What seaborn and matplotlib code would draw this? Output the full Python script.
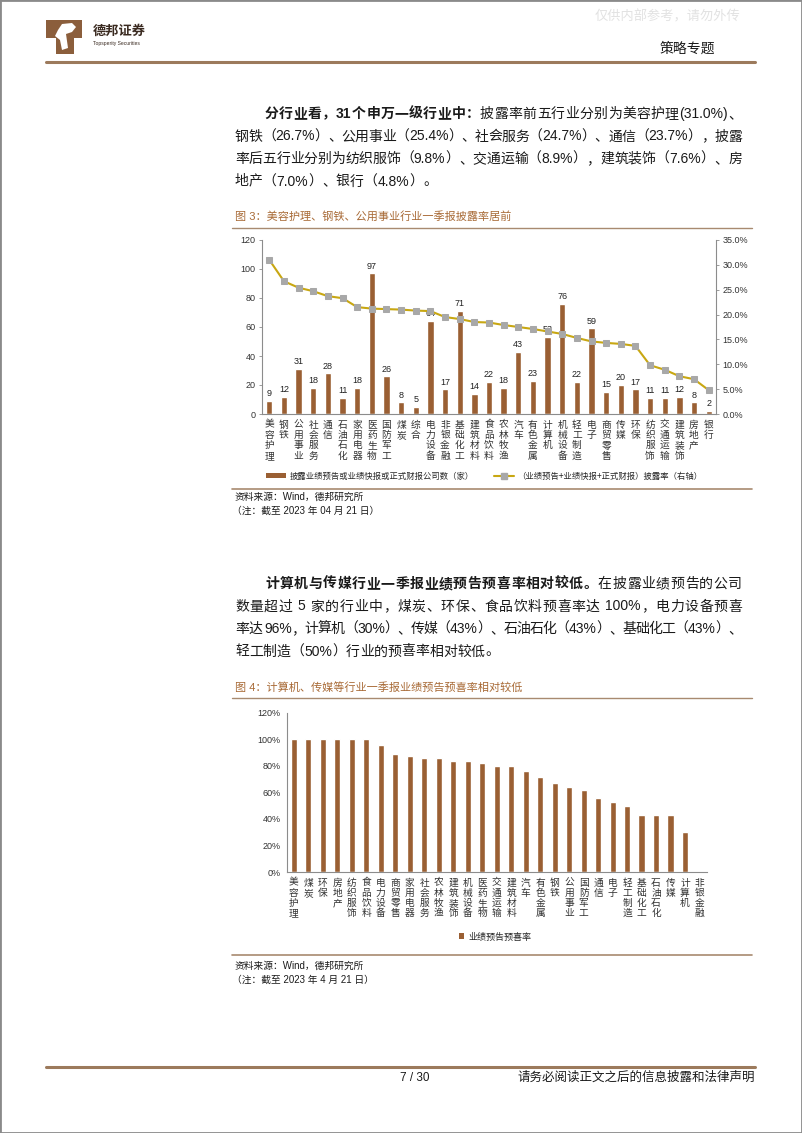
import numpy as np
import matplotlib
matplotlib.use("Agg")
import matplotlib.pyplot as plt
import seaborn as sns
from matplotlib.patches import Patch, Rectangle, Polygon
from matplotlib.lines import Line2D
from matplotlib.ticker import FuncFormatter

# ---------------- data ----------------
ind1 = ["美容护理", "钢铁", "公用事业", "社会服务", "通信", "石油石化", "家用电器", "医药生物",
        "国防军工", "煤炭", "综合", "电力设备", "非银金融", "基础化工", "建筑材料", "食品饮料",
        "农林牧渔", "汽车", "有色金属", "计算机", "机械设备", "轻工制造", "电子", "商贸零售",
        "传媒", "环保", "纺织服饰", "交通运输", "建筑装饰", "房地产", "银行"]
cnt1 = [9, 12, 31, 18, 28, 11, 18, 97, 26, 8, 5, 64, 17, 71, 14, 22, 18, 43, 23, 53, 76, 22,
        59, 15, 20, 17, 11, 11, 12, 8, 2]
rate1 = [31.0, 26.7, 25.4, 24.7, 23.7, 23.3, 21.5, 21.2, 21.1, 21.0, 20.8, 20.7, 19.5, 19.1,
         18.5, 18.4, 17.9, 17.5, 17.1, 16.6, 16.1, 15.3, 14.6, 14.3, 14.1, 13.7, 9.8, 8.9,
         7.6, 7.0, 4.8]
left_ticks1 = [0, 20, 40, 60, 80, 100, 120]
right_ticks1 = [0, 5, 10, 15, 20, 25, 30, 35]
legend1 = ["披露业绩预告或业绩快报或正式财报公司数（家）", "（业绩预告+业绩快报+正式财报）披露率（右轴）"]

ind2 = ["美容护理", "煤炭", "环保", "房地产", "纺织服饰", "食品饮料", "电力设备", "商贸零售",
        "家用电器", "社会服务", "农林牧渔", "建筑装饰", "机械设备", "医药生物", "交通运输",
        "建筑材料", "汽车", "有色金属", "钢铁", "公用事业", "国防军工", "通信", "电子",
        "轻工制造", "基础化工", "石油石化", "传媒", "计算机", "非银金融"]
rate2 = [100, 100, 100, 100, 100, 100, 96, 88.7, 87.5, 85.7, 85.7, 83.3, 83.3, 82.2, 80.0,
         80.0, 76.2, 71.4, 66.7, 64.3, 61.5, 55.6, 52.4, 50.0, 43.3, 42.9, 42.9, 30.0, 0]
ticks2 = [0, 20, 40, 60, 80, 100, 120]
legend2 = "业绩预告预喜率"

# ---------------- style ----------------
sns.set_theme(style="white")
plt.rcParams["font.family"] = ["Liberation Sans", "Noto Sans CJK SC"]
plt.rcParams["axes.unicode_minus"] = False

W, H = 802, 1133
BROWN = "#9A5F33"
GOLD = "#C8A712"
GREY_M = "#A8A8A8"
TITLE_C = "#A86A36"
LINE_C = "#A88A70"
AX_C = "#8C8C8C"
TXT = "#1A1A1A"

fig = plt.figure(figsize=(W / 100, H / 100), dpi=100)
fig.patch.set_facecolor("white")


def fx(x):
    return x / W


def fy(y):
    return 1 - y / H


def T(x, y, s, **kw):
    kw.setdefault("va", "center")
    kw.setdefault("ha", "left")
    kw.setdefault("color", TXT)
    return fig.text(fx(x), fy(y), s, **kw)


def hline(x0, x1, y, color=LINE_C, lw=1.0):
    fig.add_artist(Line2D([fx(x0), fx(x1)], [fy(y), fy(y)], transform=fig.transFigure,
                          color=color, lw=lw))


def tokens_of(s):
    toks, buf = [], ""
    for ch in s:
        if ord(ch) < 128 and ch != " ":
            buf += ch
        else:
            if buf:
                toks.append(buf)
                buf = ""
            toks.append(ch)
    if buf:
        toks.append(buf)
    return toks


renderer = fig.canvas.get_renderer()


def para_line(segments, x0, x1, y, size=10, justify=True):
    items = []
    for text, weight in segments:
        for tok in tokens_of(text):
            t = T(0, y, tok, fontsize=size, fontweight=weight)
            w = t.get_window_extent(renderer).width
            items.append((t, w))
    total = sum(w for _, w in items)
    gap = (x1 - x0 - total) / (len(items) - 1) if justify and len(items) > 1 else 0
    x = x0
    for t, w in items:
        t.set_x(fx(x))
        x += w + gap


def pxpoly(pts, **kw):
    fig.add_artist(Polygon([(fx(x), fy(y)) for x, y in pts], closed=True,
                           transform=fig.transFigure, **kw))


# ---------------- page frame / header ----------------
fig.add_artist(Rectangle((0, 0), 1, 1, transform=fig.transFigure, fill=False,
                         edgecolor="#8A8A8A", lw=2))
# logo (simplified T-shaped brown emblem with a white figure)
pxpoly([(46, 20), (82, 20), (82, 38), (74, 38), (74, 54), (56, 54), (56, 38), (46, 38)],
       facecolor="#8B5E3C", edgecolor="none")
pxpoly([(58, 30), (62, 24), (72, 23), (76, 27), (72, 32), (66, 34), (68, 48), (62, 50), (60, 40),
        (55, 36)], facecolor="white", edgecolor="none")
T(93, 32, "德邦证券", fontsize=9.5, fontweight="bold", color="#3A2A20")
T(93, 43, "Topsperity Securities", fontsize=3.6, color="#3A2A20")
T(595, 17, "仅供内部参考，请勿外传", fontsize=9.5, color="#E2E2E2")
T(687, 49, "策略专题", fontsize=10, ha="center")
hline(46, 755, 62, color="#9C7A5C", lw=2.2)

# ---------------- paragraph 1 ----------------
X0, X1 = 235, 742
para_line([("分行业看，31个申万一级行业中：", "bold"),
           ("披露率前五行业分别为美容护理(31.0%)、", "normal")], 265, X1, 114)
para_line([("钢铁（26.7%）、公用事业（25.4%）、社会服务（24.7%）、通信（23.7%），披露", "normal")],
          X0, X1, 136.5)
para_line([("率后五行业分别为纺织服饰（9.8%）、交通运输（8.9%），建筑装饰（7.6%）、房", "normal")],
          X0, X1, 159)
para_line([("地产（7.0%）、银行（4.8%）。", "normal")], X0, X1, 181.5, justify=False)

# ---------------- figure 3 ----------------
T(235, 216, "图 3：美容护理、钢铁、公用事业行业一季报披露率居前", fontsize=8, color=TITLE_C)
hline(232, 752, 228, lw=1.0)

ax1 = fig.add_axes([fx(262), fy(414), (716 - 262) / W, (414 - 240) / H])
sns.barplot(x=ind1, y=cnt1, color=BROWN, saturation=1, width=0.43, ax=ax1)
ax1.bar_label(ax1.containers[0], fontsize=6.5, padding=2, color="#222222")
ax1.set_ylim(0, 120)
ax1.set_yticks(left_ticks1)
ax1.set_xlim(-0.5, len(ind1) - 0.5)
ax1.set_xticks(range(len(ind1)))
ax1.set_xticklabels(["\n".join(n) for n in ind1], fontsize=7, linespacing=1.05,
                    family=["Noto Sans CJK SC"], color="#333333")
ax1.set_xticks(np.arange(-0.5, len(ind1), 1), minor=True)
ax1.tick_params(axis="x", which="major", length=0, pad=4)
ax1.tick_params(axis="x", which="minor", length=2.5, color=AX_C, width=0.6)
ax1.tick_params(axis="y", length=2.5, color=AX_C, width=0.6, labelsize=6.5, labelcolor="#333333", pad=2)
ax1.set_xlabel("")
ax1.set_ylabel("")
for s in ["top", "right"]:
    ax1.spines[s].set_visible(False)
for s in ["left", "bottom"]:
    ax1.spines[s].set_color(AX_C)
    ax1.spines[s].set_linewidth(0.8)

ax2 = ax1.twinx()
sns.lineplot(x=np.arange(len(rate1)), y=rate1, ax=ax2, color=GOLD, lw=1.5, marker="s",
             markersize=4.5, markerfacecolor=GREY_M, markeredgecolor=GREY_M)
ax2.set_ylim(0, 35)
ax2.set_yticks(right_ticks1)
ax2.yaxis.set_major_formatter(FuncFormatter(lambda v, p: f"{v:.1f}%"))
ax2.tick_params(axis="y", length=2.5, color=AX_C, width=0.6, labelsize=6.5, labelcolor="#333333", pad=2)
ax2.set_ylabel("")
ax2.set_xlabel("")
ax2.set_xlim(-0.5, len(ind1) - 0.5)
for s in ["top", "left", "bottom"]:
    ax2.spines[s].set_visible(False)
ax2.spines["right"].set_color(AX_C)
ax2.spines["right"].set_linewidth(0.8)

h1 = [Patch(facecolor=BROWN, edgecolor="none"),
      Line2D([0], [0], color=GOLD, lw=1.5, marker="s", markersize=4.5,
             markerfacecolor=GREY_M, markeredgecolor=GREY_M)]
fig.legend(h1, legend1, loc="center", bbox_to_anchor=(fx(484), fy(476)), ncol=2,
           frameon=False, handlelength=2.4, handleheight=0.6,
           handletextpad=0.4, columnspacing=2.4, borderpad=0,
           prop={"family": ["Noto Sans CJK SC"], "size": 6})

hline(232, 752, 489, lw=1.2)
T(235, 497, "资料来源：Wind，德邦研究所", fontsize=7)
T(232, 511, "（注：截至 2023 年 04 月 21 日）", fontsize=7)

# ---------------- paragraph 2 ----------------
para_line([("计算机与传媒行业一季报业绩预告预喜率相对较低。", "bold"),
           ("在披露业绩预告的公司", "normal")], 265, X1, 584)
para_line([("数量超过 5 家的行业中，煤炭、环保、食品饮料预喜率达 100%，电力设备预喜", "normal")],
          X0, X1, 606.5)
para_line([("率达 96%，计算机（30%）、传媒（43%）、石油石化（43%）、基础化工（43%）、", "normal")],
          X0, X1, 629)
para_line([("轻工制造（50%）行业的预喜率相对较低。", "normal")], X0, X1, 651.5, justify=False)

# ---------------- figure 4 ----------------
T(235, 687, "图 4：计算机、传媒等行业一季报业绩预告预喜率相对较低", fontsize=8, color=TITLE_C)
hline(232, 752, 698, lw=1.0)

ax3 = fig.add_axes([fx(286.7), fy(872), (706.7 - 286.7) / W, (872 - 712.7) / H])
sns.barplot(x=ind2, y=rate2, color=BROWN, saturation=1, width=0.42, ax=ax3)
ax3.set_ylim(0, 120)
ax3.set_yticks(ticks2)
ax3.yaxis.set_major_formatter(FuncFormatter(lambda v, p: f"{v:.0f}%"))
ax3.set_xlim(-0.5, len(ind2) - 0.5)
ax3.set_xticks(range(len(ind2)))
ax3.set_xticklabels(["\n".join(n) for n in ind2], fontsize=7, linespacing=1.02,
                    family=["Noto Sans CJK SC"], color="#333333")
ax3.set_xticks(np.arange(-0.5, len(ind2), 1), minor=True)
ax3.tick_params(axis="x", which="major", length=0, pad=4)
ax3.tick_params(axis="x", which="minor", length=2.5, color=AX_C, width=0.6)
ax3.tick_params(axis="y", length=2.5, color=AX_C, width=0.6, labelsize=6.5, labelcolor="#333333", pad=2)
ax3.set_xlabel("")
ax3.set_ylabel("")
for s in ["top", "right"]:
    ax3.spines[s].set_visible(False)
for s in ["left", "bottom"]:
    ax3.spines[s].set_color(AX_C)
    ax3.spines[s].set_linewidth(0.8)

fig.legend([Patch(facecolor=BROWN, edgecolor="none")], [legend2], loc="center",
           bbox_to_anchor=(fx(495), fy(937)), frameon=False, handlelength=0.6,
           handleheight=0.6, handletextpad=0.4, borderpad=0,
           prop={"family": ["Noto Sans CJK SC"], "size": 6.5})

hline(232, 752, 955, lw=1.2)
T(235, 966, "资料来源：Wind，德邦研究所", fontsize=7)
T(232, 980, "（注：截至 2023 年 4 月 21 日）", fontsize=7)

# ---------------- footer ----------------
hline(46, 755, 1067, color="#9C7A5C", lw=2.2)
T(415, 1078, "7 / 30", fontsize=8.5, ha="center")
T(755, 1078, "请务必阅读正文之后的信息披露和法律声明", fontsize=9, ha="right")

fig.savefig("out.png", dpi=100)
